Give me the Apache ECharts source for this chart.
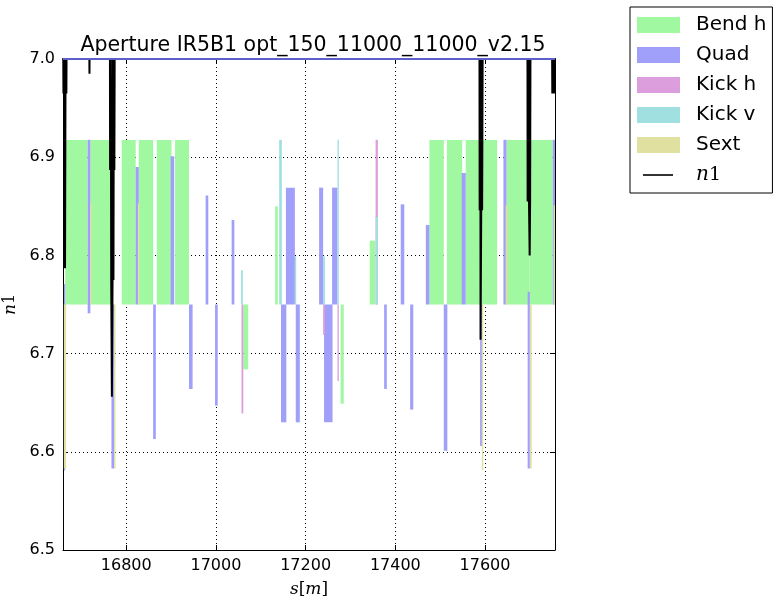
<!DOCTYPE html>
<html>
<head>
<meta charset="utf-8">
<script src="https://cdn.jsdelivr.net/npm/echarts@6/dist/echarts.min.js"></script>
<style>
  html, body { margin: 0; padding: 0; background: #fff; }
  #chart { width: 773px; height: 596px; }
</style>
</head>
<body>
<div id="chart"></div>
<script>
// Aperture plot: element blocks as [sStart, sEnd, low, high], n1 as [s, value]
const bendH = [
  [16664, 16714, 6.75, 6.9175], [16720, 16767, 6.75, 6.9175],
  [16790, 16821, 6.75, 6.9175], [16828, 16860, 6.75, 6.9175],
  [16868, 16901, 6.75, 6.9175], [16909, 16940, 6.75, 6.9175],
  [17061, 17072, 6.684, 6.75], [17132, 17138, 6.75, 6.850],
  [17278, 17285, 6.649, 6.75], [17343, 17355, 6.75, 6.815],
  [17476, 17508, 6.75, 6.9175], [17515, 17549, 6.75, 6.9175],
  [17557, 17592, 6.75, 6.9175], [17592, 17627, 6.75, 6.9175],
  [17648, 17699, 6.75, 6.9175], [17699, 17751, 6.75, 6.9175]
];
const quad = [
  [16661, 16664, 6.581, 6.771], [16714, 16720, 6.741, 6.9177],
  [16767, 16773, 6.583, 6.75], [16821, 16828, 6.75, 6.890],
  [16860, 16866, 6.613, 6.75], [16899, 16907, 6.75, 6.901],
  [16940, 16948, 6.664, 6.75], [16977, 16983, 6.75, 6.861],
  [16998, 17004, 6.647, 6.75], [17035, 17041, 6.75, 6.836],
  [17145, 17157, 6.630, 6.75], [17156, 17176, 6.75, 6.869],
  [17178, 17187, 6.630, 6.75], [17230, 17239, 6.75, 6.869],
  [17241, 17260, 6.630, 6.75], [17259, 17271, 6.75, 6.869],
  [17375, 17381, 6.664, 6.75], [17412, 17420, 6.75, 6.852],
  [17433, 17440, 6.643, 6.75], [17468, 17476, 6.75, 6.831],
  [17508, 17516, 6.601, 6.75], [17548, 17557, 6.75, 6.884],
  [17589, 17593, 6.606, 6.75], [17641, 17648, 6.75, 6.9177],
  [17695, 17700, 6.583, 6.763], [17751, 17758, 6.75, 6.9177]
];
const kickH = [
  [17057, 17061, 6.639, 6.75], [17239, 17243, 6.719, 6.75],
  [17271, 17274, 6.672, 6.75], [17356, 17361, 6.75, 6.9177]
];
const kickV = [
  [17056, 17060, 6.75, 6.785], [17141, 17147, 6.75, 6.9177],
  [17176, 17179, 6.75, 6.799], [17239, 17243, 6.75, 6.799],
  [17271, 17274, 6.75, 6.9177], [17356, 17361, 6.75, 6.839]
];
const sext = [
  [16661, 16666, 6.583, 6.75], [16720, 16723, 6.75, 6.853],
  [16773, 16776, 6.583, 6.75], [16826, 16829, 6.75, 6.853],
  [17593, 17596, 6.581, 6.75], [17646, 17650, 6.75, 6.851],
  [17700, 17704, 6.583, 6.75], [17753, 17756, 6.75, 6.851]
];
// n1 sits above 7.0 (clipped) except for short dips
const n1 = [
  [16659, 7.05], [16660, 6.965], [16661.5, 7.05], [16662.5, 6.965], [16663.5, 6.787],
  [16664.5, 6.965], [16665.5, 7.05], [16666.5, 6.965], [16667.5, 7.05],
  [16717, 7.05], [16718, 6.985], [16719, 7.05],
  [16763.5, 7.05], [16764, 6.887], [16765.5, 7.05], [16766.5, 6.775], [16768, 6.656],
  [16769.5, 6.775], [16770.5, 7.05], [16771.5, 6.775], [16772.5, 7.05],
  [16773.5, 6.887], [16774.5, 7.05],
  [17587.5, 7.05], [17588, 6.846], [17589.5, 7.05], [17590, 6.714], [17591.5, 6.846],
  [17592.5, 7.05], [17593.5, 6.846], [17595, 7.05],
  [17694.5, 7.05], [17695, 6.855], [17696.5, 7.05], [17698, 6.855], [17699.5, 6.80],
  [17700.5, 6.855], [17701.5, 7.05],
  [17749, 7.05], [17750, 6.965], [17751.5, 7.05], [17752.5, 6.965], [17754, 7.05],
  [17755, 6.965], [17756, 7.05]
];
const sRange = [16659, 17756];
const n1Range = [6.5, 7.0];
const title = 'Aperture IR5B1 opt_150_11000_11000_v2.15';

const chart = echarts.init(document.getElementById('chart'));

function renderBlock(params, api) {
  const a = api.coord([api.value(0), api.value(3)]);
  const b = api.coord([api.value(1), api.value(2)]);
  const shape = echarts.graphic.clipRectByRect(
    { x: a[0], y: a[1], width: b[0] - a[0], height: b[1] - a[1] },
    { x: params.coordSys.x, y: params.coordSys.y,
      width: params.coordSys.width, height: params.coordSys.height }
  );
  return shape && { type: 'rect', shape: shape, style: api.style() };
}

function blockSeries(name, data, color) {
  return {
    name: name,
    type: 'custom',
    renderItem: renderBlock,
    encode: { x: [0, 1], y: [2, 3] },
    itemStyle: { color: color },
    data: data,
    silent: true
  };
}

const font = 'DejaVu Sans';
const gridLine = { show: true, lineStyle: { color: '#000', type: [1, 3], width: 1 } };

const option = {
  animation: false,
  title: {
    text: title,
    left: 308,
    top: 30,
    textAlign: 'center',
    textStyle: { fontFamily: font, fontSize: 20.5, fontWeight: 'normal', color: '#000' }
  },
  legend: {
    orient: 'vertical',
    left: 630,
    top: 7,
    padding: [8, 6, 8, 7],
    itemWidth: 43,
    itemHeight: 16,
    itemGap: 10,
    borderColor: '#000',
    borderWidth: 1,
    borderRadius: 0,
    backgroundColor: '#fff',
    selectedMode: false,
    formatter: name => name === 'n1' ? '{i|n}{d|1}' : name,
    textStyle: {
      fontFamily: font, fontSize: 20, color: '#000', padding: [0, 0, 0, 11],
      rich: {
        i: { fontFamily: 'DejaVu Serif', fontStyle: 'italic', fontSize: 20, color: '#000' },
        d: { fontFamily: 'DejaVu Serif', fontSize: 19, color: '#000' }
      }
    },
    data: [
      { name: 'Bend h', icon: 'rect' },
      { name: 'Quad', icon: 'rect' },
      { name: 'Kick h', icon: 'rect' },
      { name: 'Kick v', icon: 'rect' },
      { name: 'Sext', icon: 'rect' },
      { name: 'n1', icon: 'path://M0,0M43,16M6,7.2L36,7.2L36,8.8L6,8.8Z', itemStyle: { color: '#000' } }
    ]
  },
  grid: { left: 63, right: 218, top: 59, bottom: 46, outerBoundsMode: 'none' },
  xAxis: [{
    type: 'value',
    min: sRange[0],
    max: sRange[1],
    splitNumber: 5,
    axisLine: { show: true, lineStyle: { color: '#000', width: 1 } },
    axisTick: { show: true, inside: true, length: 5, lineStyle: { color: '#000' } },
    axisLabel: {
      fontFamily: font, fontSize: 16, color: '#000', margin: 8,
      formatter: v => (v % 200 === 0 ? String(v) : '')
    },
    splitLine: gridLine,
    name: '{i|s}[{i|m}]',
    nameLocation: 'middle',
    nameGap: 31,
    nameTextStyle: {
      fontFamily: 'DejaVu Serif', fontSize: 17, color: '#000',
      rich: { i: { fontFamily: 'DejaVu Serif', fontStyle: 'italic', fontSize: 17, color: '#000' } }
    }
  }, {
    type: 'value',
    position: 'top',
    min: sRange[0],
    max: sRange[1],
    splitNumber: 5,
    axisLine: { show: true, lineStyle: { color: '#000', width: 1 } },
    axisTick: { show: true, inside: true, length: 5, lineStyle: { color: '#000' } },
    axisLabel: { show: false },
    splitLine: { show: false }
  }],
  yAxis: [{
    type: 'value',
    min: n1Range[0],
    max: n1Range[1],
    interval: 0.1,
    axisLine: { show: true, lineStyle: { color: '#000', width: 1 } },
    axisTick: { show: true, inside: true, length: 5, lineStyle: { color: '#000' } },
    axisLabel: {
      fontFamily: font, fontSize: 16, color: '#000', margin: 8,
      formatter: v => v.toFixed(1)
    },
    splitLine: gridLine,
    name: '{i|n}{d|1}',
    nameLocation: 'middle',
    nameGap: 40,
    nameTextStyle: {
      rich: {
        i: { fontFamily: 'DejaVu Serif', fontStyle: 'italic', fontSize: 17, color: '#000' },
        d: { fontFamily: 'DejaVu Serif', fontSize: 16, color: '#000' }
      }
    }
  }, {
    type: 'value',
    position: 'right',
    min: n1Range[0],
    max: n1Range[1],
    interval: 0.1,
    axisLine: { show: true, lineStyle: { color: '#000', width: 1 } },
    axisTick: { show: true, inside: true, length: 5, lineStyle: { color: '#000' } },
    axisLabel: { show: false },
    splitLine: { show: false }
  }],
  series: [
    blockSeries('Bend h', bendH, '#a0f8a0'),
    blockSeries('Quad', quad, '#a0a0fa'),
    blockSeries('Kick h', kickH, '#dc9edc'),
    blockSeries('Kick v', kickV, '#a0e0e0'),
    blockSeries('Sext', sext, '#e0e0a0'),
    {
      name: 'n1',
      type: 'line',
      data: n1,
      color: '#000',
      symbol: 'none',
      showSymbol: false,
      clip: true,
      lineStyle: { color: '#000', width: 2 },
      silent: true,
      markLine: {
        silent: true,
        symbol: ['none', 'none'],
        label: { show: false },
        lineStyle: { color: '#5f5fcc', type: 'solid', width: 2 },
        data: [{ yAxis: 7.0 }]
      }
    }
  ]
};

chart.setOption(option);
</script>
</body>
</html>
